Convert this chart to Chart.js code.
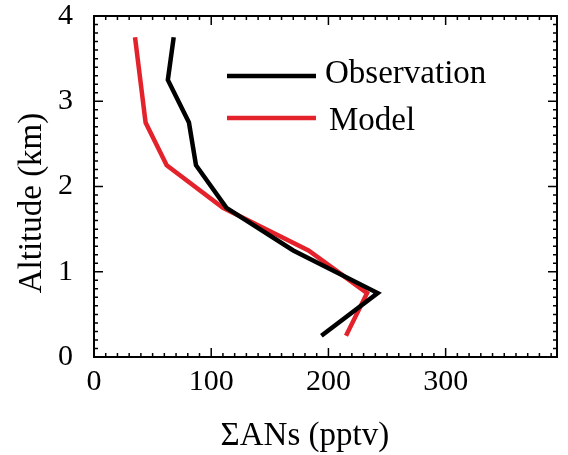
<!DOCTYPE html>
<html>
<head>
<meta charset="utf-8">
<script src="https://cdn.jsdelivr.net/npm/chart.js@4.4.1/dist/chart.umd.min.js"></script>
<style>
html, body { margin: 0; padding: 0; background: #fff; }
</style>
</head>
<body>
<canvas id="c" width="568" height="455"></canvas>
<script>
// altitude levels (km) and summed ANs (pptv)
var obsAlt = [3.75, 3.25, 2.75, 2.25, 1.75, 1.25, 0.75, 0.25];
var obsVal = [68, 63, 81, 87, 113, 170, 242, 194];
var modAlt = [3.75, 2.75, 2.25, 1.75, 1.25, 0.75, 0.25];
var modVal = [35, 44, 62, 110, 183, 233, 215];
var xTicks = [0, 100, 200, 300];
var yTicks = [0, 1, 2, 3, 4];

var serif = '"Liberation Serif", "Times New Roman", serif';

function toPoints(vals, alts) {
    return vals.map(function(v, i) { return { x: v, y: alts[i] }; });
}

// frame, inward ticks on all four sides and the in-plot legend
var frame = {
    id: 'frame',
    afterDatasetsDraw: function(chart) {
        var ctx = chart.ctx, a = chart.chartArea;
        var xs = chart.scales.x, ys = chart.scales.y;
        ctx.save();
        ctx.strokeStyle = '#000';
        ctx.lineWidth = 1.5;
        ctx.beginPath();
        for (var i = 0; i <= 39; i++) {
            var px = xs.getPixelForValue(i * 10);
            var len = i % 10 === 0 ? 9 : 4;
            ctx.moveTo(px, a.bottom); ctx.lineTo(px, a.bottom - len);
            ctx.moveTo(px, a.top); ctx.lineTo(px, a.top + len);
        }
        for (var j = 0; j <= 40; j++) {
            var py = ys.getPixelForValue(j / 10);
            var l2 = j % 10 === 0 ? 9 : 4;
            ctx.moveTo(a.left, py); ctx.lineTo(a.left + l2, py);
            ctx.moveTo(a.right, py); ctx.lineTo(a.right - l2, py);
        }
        ctx.stroke();
        ctx.lineWidth = 2;
        ctx.strokeRect(a.left, a.top, a.right - a.left, a.bottom - a.top);

        // legend
        var items = [{ y: 76, tx: 325, base: 83 }, { y: 118, tx: 329, base: 130 }];
        ctx.font = '33px ' + serif;
        ctx.fillStyle = '#000';
        ctx.textBaseline = 'alphabetic';
        chart.data.datasets.forEach(function(ds, k) {
            var it = items[k];
            ctx.strokeStyle = ds.borderColor;
            ctx.lineWidth = 4.5;
            ctx.beginPath();
            ctx.moveTo(227, it.y);
            ctx.lineTo(316, it.y);
            ctx.stroke();
            ctx.fillText(ds.label, it.tx, it.base);
        });
        ctx.restore();
    }
};

new Chart(document.getElementById('c').getContext('2d'), {
    type: 'scatter',
    data: {
        datasets: [{
            label: 'Observation',
            data: toPoints(obsVal, obsAlt),
            showLine: true,
            borderColor: '#000000',
            borderWidth: 4.5,
            borderJoinStyle: 'miter',
            pointRadius: 0,
            fill: false
        }, {
            label: 'Model',
            data: toPoints(modVal, modAlt),
            showLine: true,
            borderColor: '#e3222b',
            borderWidth: 4.5,
            borderJoinStyle: 'miter',
            pointRadius: 0,
            fill: false
        }]
    },
    options: {
        responsive: false,
        animation: false,
        devicePixelRatio: 1,
        layout: { padding: { top: 16, right: 11, left: 0, bottom: 0 } },
        plugins: {
            legend: { display: false },
            tooltip: { enabled: false }
        },
        scales: {
            x: {
                type: 'linear',
                min: 0,
                max: 395,
                grid: { display: false, drawTicks: false, tickLength: 0 },
                border: { display: false },
                afterBuildTicks: function(scale) {
                    scale.ticks = xTicks.map(function(v) { return { value: v }; });
                },
                afterFit: function(scale) {
                    scale.height = 98;
                    scale.paddingLeft = 0;
                    scale.paddingRight = 0;
                },
                ticks: {
                    color: '#000',
                    padding: 10,
                    maxRotation: 0,
                    font: { family: serif, size: 30, lineHeight: 1 }
                },
                title: {
                    display: true,
                    text: '\u03A3ANs (pptv)     ',
                    color: '#000',
                    padding: { top: 0, bottom: 2 },
                    font: { family: serif, size: 33, lineHeight: 1 }
                }
            },
            y: {
                type: 'linear',
                min: 0,
                max: 4,
                grid: { display: false, drawTicks: false, tickLength: 0 },
                border: { display: false },
                afterBuildTicks: function(scale) {
                    scale.ticks = yTicks.map(function(v) { return { value: v }; });
                },
                afterFit: function(scale) {
                    scale.width = 94;
                    scale.paddingTop = 0;
                    scale.paddingBottom = 0;
                },
                ticks: {
                    color: '#000',
                    padding: 21,
                    font: { family: serif, size: 30, lineHeight: 1 }
                },
                title: {
                    display: true,
                    text: 'Altitude (km)    ',
                    color: '#000',
                    padding: { top: 16, bottom: 0 },
                    font: { family: serif, size: 33, lineHeight: 1 }
                }
            }
        }
    },
    plugins: [frame]
});
</script>
</body>
</html>
